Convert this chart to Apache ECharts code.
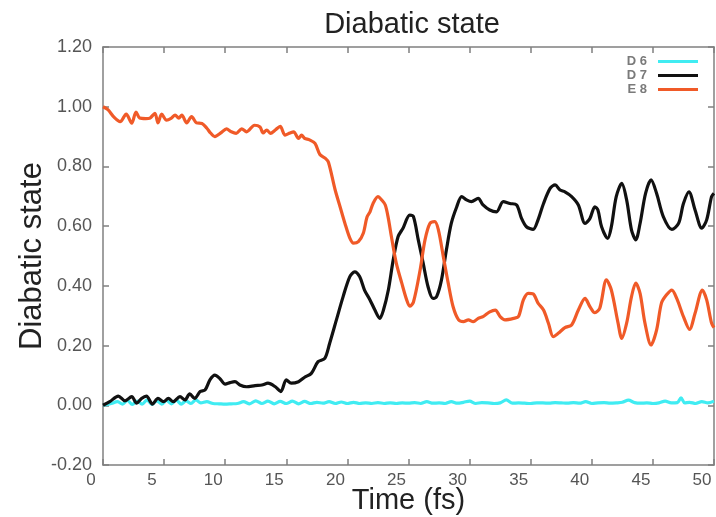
<!DOCTYPE html>
<html>
<head>
<meta charset="utf-8">
<script src="https://cdn.jsdelivr.net/npm/echarts@6/dist/echarts.min.js"></script>
<style>html,body{margin:0;padding:0;background:#fff}#c{width:716px;height:517px}</style>
</head>
<body>
<div id="c"></div>
<script>
const titleText = "Diabatic state";
const xName = "Time (fs)";
const yName = "Diabatic state";
const seriesNames = ["D 6", "D 7", "E 8"];
const xTicks = { min: 0, max: 50, interval: 5 };
const yTicks = { min: -0.2, max: 1.2, interval: 0.2 };

const d6Time = [0,0.6,1.2,1.6,2.0,2.4,2.8,3.2,3.6,4.0,4.4,4.8,5.2,5.6,6.0,6.4,6.8,7.2,7.6,8.0,8.5,9.0,9.5,10.0,10.5,11.0,11.5,12.0,12.5,13.0,13.5,14.0,14.5,15.0,15.5,16.0,16.5,17.0,17.5,18.0,18.5,19.0,19.5,20.0,20.5,21.0,21.5,22.0,22.5,23.0,23.5,24.0,24.5,25.0,25.5,26.0,26.5,27.0,27.5,28.0,28.5,29.0,29.5,30.0,30.5,31.0,31.5,32.0,32.5,33.0,33.5,34.0,34.5,35.0,35.5,36.0,36.5,37.0,37.5,38.0,38.5,39.0,39.5,40.0,40.5,41.0,41.5,42.0,42.5,43.0,43.5,44.0,44.5,45.0,45.5,46.0,46.5,47.0,47.3,47.6,48.0,48.5,49.0,49.5,50.0];
const d6Vals = [0.0,0.005,0.012,0.004,0.016,0.003,0.014,0.004,0.018,0.003,0.015,0.004,0.016,0.005,0.017,0.004,0.015,0.006,0.018,0.008,0.012,0.006,0.005,0.004,0.005,0.006,0.012,0.005,0.015,0.006,0.014,0.005,0.013,0.006,0.014,0.005,0.013,0.006,0.010,0.007,0.012,0.006,0.011,0.006,0.010,0.006,0.008,0.006,0.009,0.006,0.008,0.006,0.008,0.007,0.009,0.006,0.012,0.007,0.008,0.006,0.012,0.007,0.010,0.014,0.006,0.009,0.008,0.006,0.008,0.018,0.007,0.008,0.007,0.006,0.008,0.008,0.007,0.009,0.008,0.007,0.009,0.007,0.012,0.006,0.008,0.009,0.007,0.008,0.010,0.017,0.009,0.007,0.008,0.006,0.008,0.014,0.008,0.009,0.025,0.008,0.010,0.006,0.012,0.008,0.014];

const d7Time = [0,0.55,1.25,1.8,2.35,2.75,3.15,3.55,4.05,4.5,4.95,5.35,5.75,6.3,6.7,7.1,7.5,7.95,8.35,8.75,9.15,9.55,10.0,10.4,10.8,11.2,11.75,12.45,13.0,13.5,14.1,14.55,15.0,15.4,16.0,16.5,17.05,17.6,18.15,18.55,19.1,19.65,20.2,20.6,21.0,21.4,21.85,22.25,22.65,22.95,23.35,23.75,24.15,24.55,25.1,25.4,25.8,26.2,26.6,27.0,27.3,27.7,28.1,28.5,28.95,29.35,29.75,30.15,30.7,31.1,31.65,32.2,32.75,33.3,33.85,34.25,34.65,35.2,35.6,36.05,36.6,37.0,37.4,37.8,38.35,38.9,39.45,39.85,40.25,40.5,40.8,41.3,41.6,42.0,42.45,42.85,43.25,43.6,43.95,44.4,44.85,45.3,45.85,46.55,47.1,47.5,47.95,48.45,49.0,49.4,49.8,50.0];
const d7Vals = [0.0,0.012,0.031,0.015,0.029,0.007,0.023,0.031,0.004,0.023,0.012,0.023,0.012,0.029,0.018,0.038,0.023,0.046,0.051,0.085,0.101,0.090,0.071,0.076,0.079,0.068,0.062,0.066,0.068,0.074,0.062,0.046,0.085,0.074,0.079,0.094,0.107,0.146,0.157,0.208,0.286,0.364,0.431,0.447,0.431,0.386,0.353,0.319,0.291,0.319,0.386,0.487,0.565,0.593,0.637,0.632,0.554,0.476,0.397,0.358,0.364,0.420,0.520,0.609,0.665,0.699,0.688,0.682,0.693,0.671,0.654,0.648,0.682,0.676,0.671,0.626,0.598,0.589,0.621,0.676,0.727,0.738,0.721,0.715,0.699,0.671,0.609,0.626,0.665,0.654,0.598,0.559,0.598,0.699,0.743,0.688,0.587,0.554,0.609,0.710,0.755,0.710,0.632,0.589,0.609,0.676,0.715,0.654,0.593,0.621,0.699,0.710];

const e8Time = [0,0.4,0.9,1.4,1.9,2.35,2.7,3.0,3.5,3.85,4.25,4.5,4.8,5.2,5.6,5.9,6.2,6.45,6.85,7.25,7.65,8.1,8.5,8.8,9.15,9.7,10.1,10.5,10.9,11.35,11.75,12.4,12.85,13.1,13.4,13.7,14.1,14.5,14.9,15.3,15.6,16.0,16.25,16.5,16.9,17.35,17.75,18.2,18.45,19.0,19.4,19.8,20.2,20.5,20.9,21.3,21.6,21.85,22.1,22.5,22.8,23.1,23.35,23.6,24.0,24.45,24.85,25.1,25.4,25.95,26.35,26.75,27.15,27.45,27.85,28.25,28.65,29.1,29.5,29.9,30.3,30.7,31.1,31.65,32.1,32.5,32.9,33.6,34.0,34.4,34.8,35.2,35.6,36.05,36.45,36.85,37.25,37.8,38.35,38.9,39.45,39.85,40.25,40.65,41.2,41.6,42.15,42.45,42.85,43.25,43.6,43.95,44.35,44.85,45.3,45.7,46.1,46.55,46.95,47.5,48.0,48.45,49.05,49.4,49.8,50.0];
const e8Vals = [1.00,0.99,0.965,0.95,0.975,0.945,0.982,0.962,0.96,0.962,0.978,0.946,0.975,0.955,0.962,0.972,0.962,0.972,0.946,0.967,0.946,0.944,0.928,0.912,0.90,0.914,0.926,0.916,0.911,0.926,0.916,0.938,0.932,0.912,0.922,0.911,0.922,0.934,0.905,0.912,0.916,0.894,0.905,0.894,0.889,0.877,0.840,0.827,0.814,0.721,0.665,0.609,0.560,0.543,0.548,0.576,0.630,0.648,0.676,0.699,0.688,0.671,0.626,0.565,0.476,0.409,0.353,0.332,0.345,0.453,0.554,0.609,0.615,0.587,0.498,0.409,0.330,0.286,0.280,0.286,0.280,0.291,0.297,0.313,0.319,0.297,0.286,0.291,0.297,0.353,0.375,0.373,0.342,0.319,0.275,0.230,0.241,0.260,0.269,0.319,0.358,0.330,0.310,0.325,0.420,0.386,0.275,0.224,0.275,0.364,0.409,0.375,0.275,0.202,0.252,0.342,0.369,0.386,0.358,0.297,0.254,0.308,0.386,0.353,0.275,0.26];

const colors = ["#40ecf2", "#111111", "#f05a28"];
const FONT = "'Liberation Sans', Arial, Helvetica, sans-serif";

function pairs(ts, vs) { return ts.map((t, i) => [t, vs[i]]); }

const chart = echarts.init(document.getElementById('c'), null, { renderer: 'canvas' });
const axisLineStyle = { color: '#808080', width: 1.5 };
const option = {
  backgroundColor: '#fff',
  animation: false,
  title: {
    text: titleText, left: 407, top: 5, textAlign: 'center',
    textStyle: { fontFamily: FONT, fontSize: 29, fontWeight: 'normal', color: '#222' }
  },
  legend: {
    orient: 'vertical', right: 13, top: 50, align: 'right',
    itemWidth: 40, itemHeight: 3, itemGap: 1, icon: 'rect',
    textStyle: { fontFamily: FONT, fontSize: 13, fontWeight: 'bold', color: '#7a7a7a', lineHeight: 13, padding: [0, 6, 0, 0] },
    data: seriesNames
  },
  grid: { left: 103, right: 2, top: 47, bottom: 52, outerBoundsMode: 'none' },
  xAxis: [{
    type: 'value', position: 'bottom', min: xTicks.min, max: xTicks.max, interval: xTicks.interval,
    name: xName, nameLocation: 'middle', nameGap: 21, nameMoveOverlap: false,
    nameTextStyle: { fontFamily: FONT, fontSize: 29, color: '#222', verticalAlign: 'top' },
    axisLine: { show: true, onZero: false, lineStyle: axisLineStyle },
    axisTick: { show: true, inside: true, length: 6, lineStyle: axisLineStyle },
    axisLabel: { fontFamily: FONT, fontSize: 17, color: '#555', margin: 7, padding: [0, 24, 0, 0], showMinLabel: true, showMaxLabel: true },
    splitLine: { show: false }
  }, {
    type: 'value', position: 'top', min: xTicks.min, max: xTicks.max, interval: xTicks.interval,
    axisLine: { show: true, onZero: false, lineStyle: axisLineStyle },
    axisTick: { show: true, inside: true, length: 6, lineStyle: axisLineStyle },
    axisLabel: { show: false }, splitLine: { show: false }
  }],
  yAxis: [{
    type: 'value', position: 'left', min: yTicks.min, max: yTicks.max, interval: yTicks.interval,
    name: yName, nameLocation: 'middle', nameGap: 55, nameRotate: 90, nameMoveOverlap: false,
    nameTextStyle: { fontFamily: FONT, fontSize: 31, color: '#222' },
    axisLine: { show: true, onZero: false, lineStyle: axisLineStyle },
    axisTick: { show: true, inside: true, length: 6, lineStyle: axisLineStyle },
    axisLabel: { fontFamily: FONT, fontSize: 18, color: '#555', margin: 11, formatter: v => v.toFixed(2) },
    splitLine: { show: false }
  }, {
    type: 'value', position: 'right', min: yTicks.min, max: yTicks.max, interval: yTicks.interval,
    axisLine: { show: true, onZero: false, lineStyle: axisLineStyle },
    axisTick: { show: true, inside: true, length: 6, lineStyle: axisLineStyle },
    axisLabel: { show: false }, splitLine: { show: false }
  }],
  series: [
    { name: seriesNames[0], type: 'line', data: pairs(d6Time, d6Vals), showSymbol: false, smooth: 0.3, lineStyle: { width: 3.2, color: colors[0] }, itemStyle: { color: colors[0] }, z: 2 },
    { name: seriesNames[1], type: 'line', data: pairs(d7Time, d7Vals), showSymbol: false, smooth: 0.3, lineStyle: { width: 3.2, color: colors[1] }, itemStyle: { color: colors[1] }, z: 3 },
    { name: seriesNames[2], type: 'line', data: pairs(e8Time, e8Vals), showSymbol: false, smooth: 0.3, lineStyle: { width: 3.2, color: colors[2] }, itemStyle: { color: colors[2] }, z: 4 }
  ]
};
chart.setOption(option);
</script>
</body>
</html>
